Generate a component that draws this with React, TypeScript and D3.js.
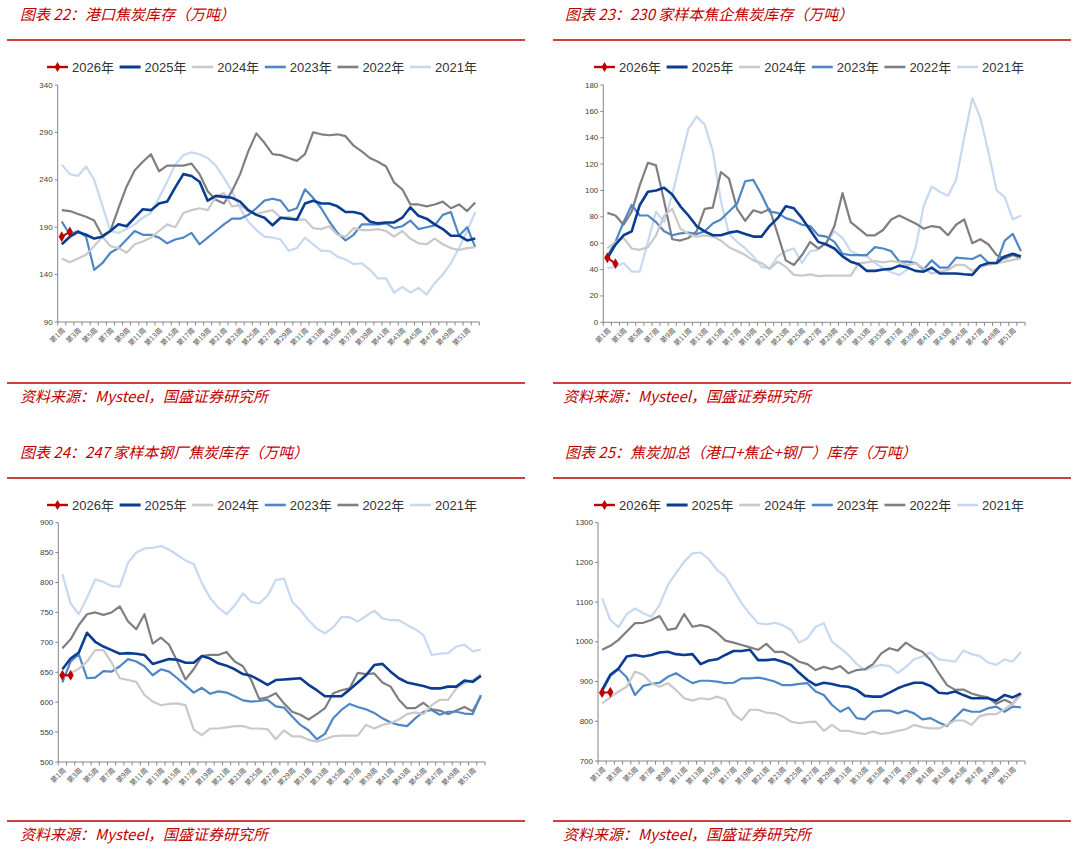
import React, { useRef, useEffect } from "react";
import * as d3 from "d3";

// categories
const weeks = d3.range(1, 53).map((w) => `第${w}周`);
const seriesNames = ["2026年", "2025年", "2024年", "2023年", "2022年", "2021年"];
const seriesColors = ["#C00000", "#0A3D91", "#C9C9C9", "#4F86C6", "#7F7F7F", "#C6D9F0"];
const seriesWidths = [2, 2.6, 2.2, 2.2, 2.2, 2.2];

// 图表22 港口焦炭库存
const p1_2026 = [180, 185];
const p1_2025 = [172, 180, 185, 182, 178, 180, 186, 193, 191, 200, 209, 208, 215, 217, 232, 246, 244, 238, 218, 223, 222, 221, 217, 208,
  203, 200, 192, 200, 199, 198, 215, 218, 215, 215, 212, 206, 206, 204, 196, 194, 195, 195, 200, 211, 202, 199, 193, 188, 181, 181, 176, 178];
const p1_2024 = [157, 153, 157, 161, 170, 180, 170, 168, 163, 172, 175, 179, 186, 193, 190, 205, 208, 210, 208, 222, 226, 212, 213, 207,
  204, 206, 208, 200, 201, 198, 198, 189, 188, 191, 182, 180, 189, 187, 187, 188, 186, 180, 186, 178, 173, 172, 178, 172, 168, 166, 168, 169];
const p1_2023 = [196, 182, 186, 180, 145, 152, 163, 168, 177, 186, 182, 182, 179, 173, 177, 179, 184, 172, 179, 186, 193, 199, 199, 203,
  210, 218, 220, 218, 207, 210, 230, 221, 210, 196, 184, 176, 182, 193, 193, 193, 194, 189, 191, 197, 188, 190, 192, 203, 206, 181, 190, 169];
const p1_2022 = [208, 207, 204, 201, 197, 181, 186, 210, 233, 250, 259, 267, 249, 255, 255, 255, 257, 246, 228, 219, 215, 228, 246, 270,
  289, 279, 267, 266, 263, 260, 267, 290, 288, 287, 288, 286, 276, 270, 263, 259, 254, 237, 230, 214, 214, 212, 214, 217, 210, 214, 207, 216];
const p1_2021 = [256, 246, 244, 254, 240, 213, 186, 184, 188, 193, 200, 205, 221, 238, 256, 266, 269, 267, 263, 255, 242, 228, 210, 196,
  187, 180, 179, 177, 165, 168, 179, 172, 165, 165, 159, 156, 151, 152, 145, 136, 136, 121, 127, 121, 126, 119, 131, 140, 152, 168, 186, 206];
const p1_ticks = [90, 140, 190, 240, 290, 340];

// 图表23 230家样本焦企焦炭库存
const p2_2026 = [49, 44.5];
const p2_2025 = [48.5, 59, 66, 69, 89, 99, 100, 102, 97, 88, 81, 73, 69, 66, 66, 68, 69, 67, 65, 65, 73, 79, 88, 86.5,
  79, 70, 61, 59, 56, 50, 46, 44, 39, 39, 40, 40.5, 43, 41.5, 39, 38.4, 41.5, 37, 37, 37, 36.4, 36, 43, 45, 45, 50, 52, 50];
const p2_2024 = [56, 61, 64, 56, 55, 57, 66, 81, 86, 71, 67, 65, 66, 65, 62, 57, 54, 51, 47, 45, 40.5, 46, 42, 36,
  35.4, 36.4, 35, 35.4, 35.4, 35.4, 35.4, 44.7, 45.5, 46.5, 45.5, 46.5, 45.5, 43.5, 44.7, 41, 37, 38.4, 39.7, 43.5, 43.5, 39, 42, 43.5, 44.7, 46, 47.3, 48.5];
const p2_2023 = [50, 61, 76, 89, 81, 81, 76, 69, 66, 67.5, 68, 67, 69, 75, 78, 84, 90, 107, 108, 97, 84, 83, 79, 77,
  74, 73, 66, 65, 61, 52, 51, 51, 51, 57, 56, 54, 46, 46, 45, 40, 47, 41.5, 41.5, 49, 48.5, 48, 51, 45, 45, 62, 67, 54];
const p2_2022 = [83, 81, 74, 84, 104, 121, 119, 92, 63, 62, 64, 69, 86, 87, 114, 109, 86, 77, 85, 83, 86, 67, 47, 43.5,
  51, 61, 56, 60, 73, 98, 76, 71, 66, 66, 70, 78, 81, 78, 75, 71, 73, 72, 66, 74, 78, 60, 63, 59, 51, 48.5, 51, 48.5];
const p2_2021 = [41, 42, 45, 38.5, 38.5, 61, 84, 76, 97, 122, 147, 156, 150, 130, 92, 67, 61, 56, 50, 42, 41, 50, 54, 56,
  45, 54, 55, 61, 69, 64, 54, 51, 50, 45, 41, 38, 36, 40, 56, 88, 103, 99, 96, 108, 140, 170, 155, 129, 100, 95, 78, 81];
const p2_ticks = [0, 20, 40, 60, 80, 100, 120, 140, 160, 180];

// 图表24 247家样本钢厂焦炭库存
const p3_2026 = [645, 645];
const p3_2025 = [655, 673, 683, 716, 701, 693, 687, 681, 682, 681, 679, 664, 668, 672, 671, 666, 666, 677, 673, 665, 661, 655, 647, 644,
  637, 629, 637, 638, 639, 640, 629, 620, 610, 610, 610, 621, 633, 645, 662, 664, 651, 640, 633, 630, 627, 623, 623, 626, 626, 636, 634, 644];
const p3_2024 = [640, 648, 656, 668, 687, 687, 666, 640, 637, 634, 612, 601, 595, 597, 598, 595, 554, 545, 556, 556, 558, 560, 560, 556,
  556, 555, 538, 553, 543, 543, 537, 534, 538, 543, 544, 544, 544, 562, 556, 562, 565, 571, 580, 583, 580, 595, 604, 604, 623, 632, 637, 647];
const p3_2023 = [633, 668, 680, 640, 641, 652, 651, 660, 672, 668, 660, 645, 655, 651, 640, 628, 616, 624, 614, 618, 616, 610, 603, 601,
  602, 604, 593, 591, 576, 562, 553, 538, 547, 573, 587, 597, 592, 588, 582, 573, 566, 562, 560, 573, 584, 587, 579, 584, 584, 581, 580, 612];
const p3_2022 = [690, 705, 729, 747, 750, 746, 750, 760, 735, 722, 747, 698, 708, 696, 668, 638, 655, 677, 679, 679, 684, 668, 660, 637,
  605, 608, 615, 598, 584, 579, 571, 580, 590, 615, 620, 623, 649, 647, 648, 633, 626, 604, 590, 590, 599, 588, 586, 580, 586, 592, 585, 610];
const p3_2021 = [814, 765, 747, 775, 805, 801, 794, 793, 833, 850, 857, 858, 861, 855, 846, 837, 831, 799, 774, 758, 747, 762, 782, 768,
  765, 778, 804, 807, 768, 754, 737, 723, 715, 725, 742, 742, 735, 744, 753, 740, 737, 737, 729, 722, 712, 679, 681, 682, 693, 696, 685, 688];
const p3_ticks = [500, 550, 600, 650, 700, 750, 800, 850, 900];

// 图表25 焦炭加总
const p4_2026 = [872, 873];
const p4_2025 = [879, 917, 933, 963, 967, 963, 967, 973, 975, 969, 967, 969, 944, 953, 956, 967, 977, 977, 980, 954, 954, 956, 950, 942,
  922, 904, 891, 897, 894, 889, 887, 879, 864, 862, 862, 872, 883, 891, 897, 897, 889, 872, 870, 875, 866, 858, 858, 858, 852, 866, 860, 870];
const p4_2024 = [845, 860, 875, 887, 925, 917, 896, 887, 896, 879, 858, 852, 858, 855, 862, 855, 818, 803, 829, 829, 822, 820, 812, 799,
  795, 798, 799, 776, 791, 776, 776, 771, 768, 774, 768, 771, 776, 780, 791, 785, 782, 782, 791, 802, 802, 791, 813, 818, 818, 830, 845, 866];
const p4_2023 = [875, 914, 931, 911, 866, 889, 894, 897, 912, 921, 908, 896, 902, 902, 900, 896, 897, 908, 908, 910, 906, 900, 891, 891,
  894, 896, 875, 866, 841, 824, 835, 808, 805, 824, 827, 827, 820, 827, 820, 805, 808, 797, 788, 810, 830, 824, 824, 833, 837, 824, 837, 835];
const p4_2022 = [980, 990, 1005, 1026, 1047, 1048, 1055, 1065, 1030, 1034, 1070, 1038, 1042, 1037, 1023, 1003, 998, 992, 986, 980, 995, 975, 975, 963,
  950, 944, 929, 937, 931, 939, 921, 929, 931, 944, 971, 984, 978, 998, 984, 975, 954, 921, 891, 879, 880, 870, 864, 860, 844, 854, 844, 870];
const p4_2021 = [1110, 1055, 1037, 1070, 1084, 1072, 1063, 1093, 1143, 1173, 1202, 1223, 1225, 1208, 1181, 1164, 1131, 1097, 1070, 1047, 1044, 1048, 1042, 1030,
  998, 1009, 1038, 1047, 1000, 984, 967, 944, 929, 937, 942, 939, 921, 937, 956, 963, 973, 956, 953, 950, 978, 969, 964, 948, 942, 956, 950, 975];
const p4_ticks = [700, 800, 900, 1000, 1100, 1200, 1300];

const SOURCE = "资料来源：Mysteel，国盛证券研究所";
const RED = "#C00000";
const CJK = "'Noto Sans CJK SC', sans-serif";
const NUM = "'Liberation Sans', 'Noto Sans CJK SC', sans-serif";

const panels = [
  { title: "图表 22：港口焦炭库存（万吨）", ticks: p1_ticks, series: [p1_2026, p1_2025, p1_2024, p1_2023, p1_2022, p1_2021],
    side: 0, row: 0, plot: [57.7, 479.3, 85, 322] },
  { title: "图表 23：230 家样本焦企焦炭库存（万吨）", ticks: p2_ticks, series: [p2_2026, p2_2025, p2_2024, p2_2023, p2_2022, p2_2021],
    side: 1, row: 0, plot: [603.3, 1025, 85, 322.3] },
  { title: "图表 24：247 家样本钢厂焦炭库存（万吨）", ticks: p3_ticks, series: [p3_2026, p3_2025, p3_2024, p3_2023, p3_2022, p3_2021],
    side: 0, row: 1, plot: [58.3, 485, 522.7, 762] },
  { title: "图表 25：焦炭加总（港口+焦企+钢厂）库存（万吨）", ticks: p4_ticks, series: [p4_2026, p4_2025, p4_2024, p4_2023, p4_2022, p4_2021],
    side: 1, row: 1, plot: [598, 1025, 522.7, 761] },
];

const App: React.FC = () => {
  const svgRef = useRef<SVGSVGElement | null>(null);

  useEffect(() => {
    if (!svgRef.current) return;
    const svg = d3.select(svgRef.current);
    svg.selectAll("*").remove();
    svg.append("rect").attr("width", 1080).attr("height", 849).attr("fill", "#fff");

    panels.forEach((p) => {
      const hx = p.side === 0
        ? { title: 20, l1: 7, l2: 525, leg: 47, src: 20 }
        : { title: 565, l1: 553, l2: 1071, leg: 594, src: 563 };
      const hy = p.row === 0
        ? { title: 13, line: 40, leg: 67, srcLine: 383, src: 395 }
        : { title: 451, line: 478, leg: 505, srcLine: 821, src: 833 };
      const g = svg.append("g");

      g.append("text")
        .attr("x", hx.title).attr("y", hy.title)
        .attr("dominant-baseline", "central")
        .attr("font-family", CJK).attr("font-size", 15)
        .attr("font-style", "italic").attr("fill", RED)
        .text(p.title);
      g.append("line")
        .attr("x1", hx.l1).attr("x2", hx.l2).attr("y1", hy.line).attr("y2", hy.line)
        .attr("stroke", RED).attr("stroke-width", 1.5);

      // legend
      seriesNames.forEach((name, i) => {
        const lx = hx.leg + i * 72.6;
        g.append("line")
          .attr("x1", lx).attr("x2", lx + 21).attr("y1", hy.leg).attr("y2", hy.leg)
          .attr("stroke", seriesColors[i]).attr("stroke-width", seriesWidths[i] + 0.4);
        if (i === 0) {
          g.append("path")
            .attr("d", d3.symbol(d3.symbolDiamond, 30)())
            .attr("transform", `translate(${lx + 10.5},${hy.leg})`)
            .attr("fill", RED);
        }
        g.append("text")
          .attr("x", lx + 25).attr("y", hy.leg)
          .attr("dominant-baseline", "central")
          .attr("font-family", NUM).attr("font-size", 13).attr("fill", "#333")
          .text(name);
      });

      const [x0, x1, y0, y1] = p.plot;
      const x = d3.scaleBand<string>().domain(weeks).range([x0, x1]);
      const y = d3.scaleLinear()
        .domain([p.ticks[0], p.ticks[p.ticks.length - 1]])
        .range([y1, y0]);
      const axisColor = "#868686";

      // y axis
      g.append("line").attr("x1", x0).attr("x2", x0).attr("y1", y0).attr("y2", y1)
        .attr("stroke", axisColor).attr("stroke-width", 1);
      p.ticks.forEach((t) => {
        g.append("line").attr("x1", x0 - 3).attr("x2", x0).attr("y1", y(t)).attr("y2", y(t))
          .attr("stroke", axisColor);
        g.append("text")
          .attr("x", x0 - 5).attr("y", y(t))
          .attr("text-anchor", "end").attr("dominant-baseline", "central")
          .attr("font-family", NUM).attr("font-size", 8).attr("fill", "#404040")
          .text(t);
      });

      // x axis
      g.append("line").attr("x1", x0).attr("x2", x1).attr("y1", y1).attr("y2", y1)
        .attr("stroke", axisColor).attr("stroke-width", 1);
      d3.range(weeks.length + 1).forEach((i) => {
        const tx = x0 + i * x.step();
        g.append("line").attr("x1", tx).attr("x2", tx).attr("y1", y1).attr("y2", y1 + 3.5)
          .attr("stroke", axisColor);
      });
      weeks.forEach((w, i) => {
        if (i % 2 !== 0) return;
        const cx = (x(w) ?? 0) + x.bandwidth() / 2;
        g.append("text")
          .attr("transform", `translate(${cx + 2},${y1 + 7}) rotate(-45)`)
          .attr("text-anchor", "end").attr("dy", "0.35em")
          .attr("font-family", CJK).attr("font-size", 7).attr("fill", "#595959")
          .text(w);
      });

      // series, 2021 at the bottom, 2026 on top
      const line = d3.line<number>()
        .x((_, i) => (x(weeks[i]) ?? 0) + x.bandwidth() / 2)
        .y((d) => y(d));
      for (let s = p.series.length - 1; s >= 0; s--) {
        g.append("path")
          .attr("d", line(p.series[s]) ?? "")
          .attr("fill", "none")
          .attr("stroke", seriesColors[s])
          .attr("stroke-width", seriesWidths[s])
          .attr("stroke-linejoin", "round");
      }
      p.series[0].forEach((v, i) => {
        g.append("path")
          .attr("d", d3.symbol(d3.symbolDiamond, 34)())
          .attr("transform", `translate(${(x(weeks[i]) ?? 0) + x.bandwidth() / 2},${y(v)})`)
          .attr("fill", RED);
      });

      // source
      g.append("line")
        .attr("x1", hx.l1).attr("x2", hx.l2).attr("y1", hy.srcLine).attr("y2", hy.srcLine)
        .attr("stroke", RED).attr("stroke-width", 1.5);
      g.append("text")
        .attr("x", hx.src).attr("y", hy.src)
        .attr("dominant-baseline", "central")
        .attr("font-family", CJK).attr("font-size", 15)
        .attr("font-style", "italic").attr("fill", RED)
        .text(SOURCE);
    });
  }, []);

  return (
    <div style={{ position: "absolute", left: 0, top: 0 }}>
      <svg ref={svgRef} width={1080} height={849} />
    </div>
  );
};

export default App;
